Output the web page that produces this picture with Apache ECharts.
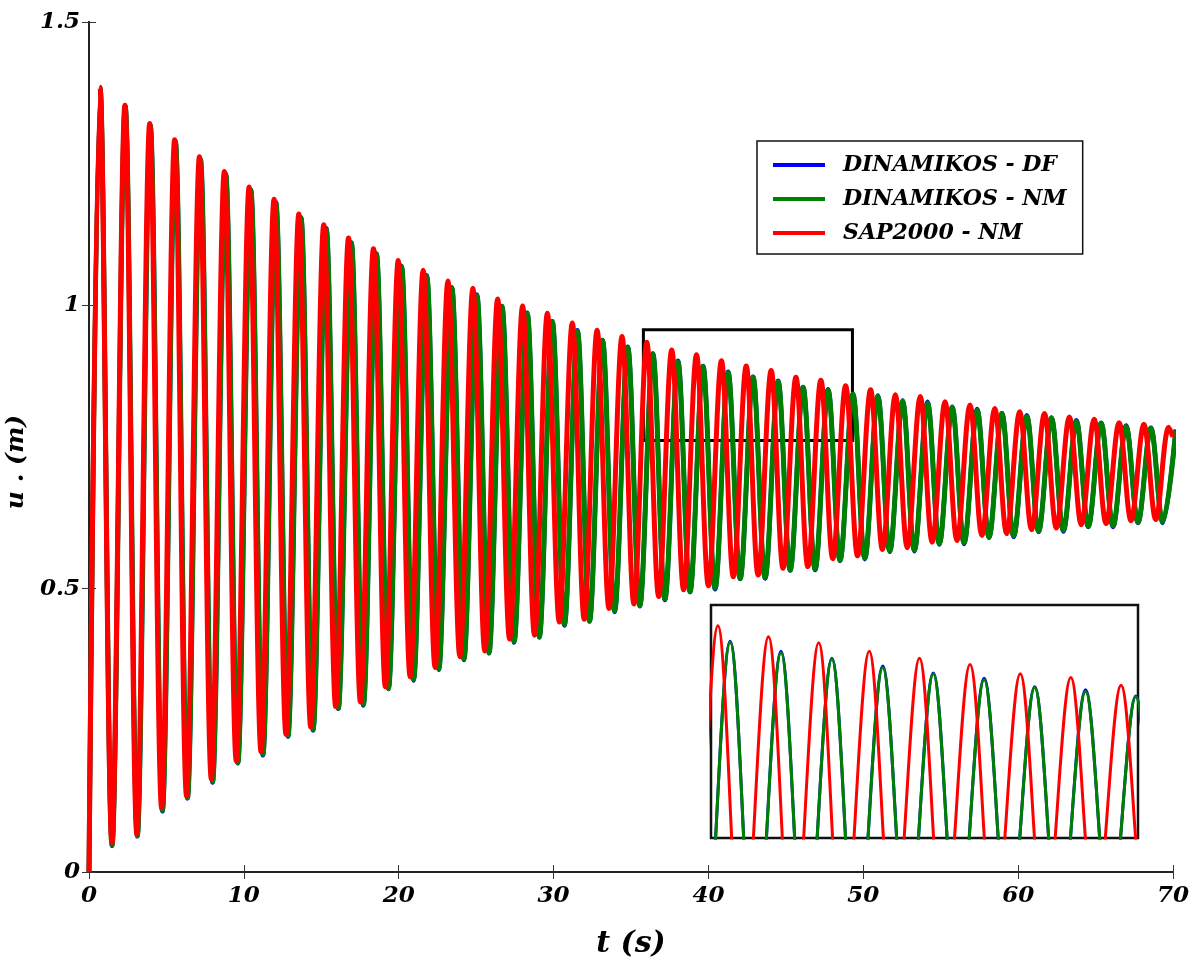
<!DOCTYPE html>
<html>
<head>
<meta charset="utf-8">
<title>u(t)</title>
<script src="https://cdn.jsdelivr.net/npm/echarts@6/dist/echarts.min.js"></script>
<style>
  html, body { margin: 0; padding: 0; background: #fff; }
  #chart { width: 1192px; height: 962px; }
</style>
</head>
<body>
<div id="chart"></div>
<script>
// ---- data (t in s, u in m) ----
const seriesStart = [0, 0];

// SAP2000 - NM (red)
const redPeakT = [0.71, 2.32, 3.92, 5.53, 7.13, 8.74, 10.34, 11.95, 13.55, 15.16, 16.76, 18.37, 19.97, 21.58, 23.18,
  24.79, 26.39, 28.00, 29.60, 31.21, 32.81, 34.42, 36.02, 37.63, 39.23, 40.84, 42.44, 44.05, 45.65, 47.26, 48.86,
  50.47, 52.07, 53.68, 55.28, 56.89, 58.49, 60.10, 61.70, 63.31, 64.91, 66.52, 68.12, 69.73];
const redPeakU = [1.385, 1.353, 1.321, 1.292, 1.262, 1.236, 1.209, 1.187, 1.161, 1.142, 1.119, 1.100, 1.079, 1.062, 1.043,
  1.030, 1.011, 0.999, 0.986, 0.969, 0.956, 0.945, 0.935, 0.921, 0.913, 0.902, 0.893, 0.885, 0.873, 0.868, 0.858,
  0.851, 0.842, 0.839, 0.830, 0.824, 0.818, 0.812, 0.809, 0.803, 0.799, 0.793, 0.790, 0.785];
const redTroughT = [1.48, 3.09, 4.69, 6.30, 7.90, 9.51, 11.11, 12.72, 14.32, 15.93, 17.53, 19.14, 20.74, 22.35, 23.95,
  25.56, 27.16, 28.77, 30.37, 31.98, 33.58, 35.19, 36.79, 38.40, 40.00, 41.61, 43.21, 44.82, 46.42, 48.03, 49.63,
  51.24, 52.84, 54.45, 56.05, 57.66, 59.26, 60.87, 62.47, 64.08, 65.68, 67.29, 68.89];
const redTroughU = [0.052, 0.067, 0.113, 0.134, 0.164, 0.196, 0.212, 0.243, 0.256, 0.292, 0.300, 0.327, 0.344, 0.361, 0.380,
  0.390, 0.411, 0.418, 0.441, 0.446, 0.465, 0.473, 0.486, 0.498, 0.505, 0.521, 0.524, 0.536, 0.539, 0.553, 0.558,
  0.569, 0.572, 0.582, 0.585, 0.594, 0.597, 0.604, 0.607, 0.613, 0.615, 0.620, 0.622];
const redEnd = [70, 0.768];

// DINAMIKOS - NM (green)
const greenPeakT = [0.72, 2.34, 3.96, 5.58, 7.20, 8.83, 10.45, 12.07, 13.69, 15.32, 16.94, 18.56, 20.18, 21.81, 23.43,
  25.05, 26.67, 28.30, 29.92, 31.54, 33.16, 34.79, 36.41, 38.03, 39.65, 41.27, 42.88, 44.50, 46.11, 47.73, 49.33,
  50.94, 52.54, 54.15, 55.74, 57.35, 58.95, 60.56, 62.15, 63.76, 65.36, 66.97, 68.57, 70.18];
const greenPeakU = [1.382, 1.350, 1.317, 1.288, 1.257, 1.230, 1.203, 1.180, 1.154, 1.134, 1.110, 1.090, 1.069, 1.051, 1.031,
  1.017, 0.998, 0.985, 0.971, 0.954, 0.938, 0.925, 0.914, 0.900, 0.892, 0.881, 0.873, 0.865, 0.855, 0.850, 0.843,
  0.839, 0.831, 0.828, 0.820, 0.815, 0.809, 0.804, 0.801, 0.795, 0.792, 0.786, 0.783, 0.779];
const greenTroughT = [1.49, 3.12, 4.74, 6.36, 7.98, 9.61, 11.23, 12.85, 14.47, 16.10, 17.72, 19.34, 20.96, 22.59, 24.21,
  25.83, 27.45, 29.08, 30.70, 32.32, 33.94, 35.57, 37.19, 38.81, 40.43, 42.05, 43.66, 45.28, 46.89, 48.50, 50.10,
  51.71, 53.30, 54.91, 56.51, 58.12, 59.71, 61.32, 62.92, 64.53, 66.13, 67.74, 69.34];
const greenTroughU = [0.048, 0.064, 0.109, 0.131, 0.160, 0.193, 0.208, 0.240, 0.252, 0.289, 0.296, 0.324, 0.340, 0.358, 0.376,
  0.387, 0.407, 0.415, 0.437, 0.443, 0.461, 0.470, 0.482, 0.495, 0.501, 0.518, 0.520, 0.533, 0.535, 0.550, 0.554,
  0.566, 0.568, 0.579, 0.581, 0.591, 0.593, 0.601, 0.603, 0.610, 0.611, 0.617, 0.618];

// DINAMIKOS - DF (blue), almost on top of the green one (same peak / trough times)
const bluePeakU = [1.384, 1.352, 1.318, 1.290, 1.258, 1.232, 1.204, 1.182, 1.155, 1.136, 1.111, 1.092, 1.070, 1.053, 1.032,
  1.019, 0.999, 0.987, 0.972, 0.956, 0.939, 0.927, 0.915, 0.902, 0.893, 0.883, 0.874, 0.867, 0.856, 0.852, 0.844,
  0.841, 0.832, 0.830, 0.821, 0.817, 0.810, 0.806, 0.802, 0.797, 0.793, 0.788, 0.784, 0.781];
const blueTroughU = [0.046, 0.063, 0.107, 0.130, 0.158, 0.192, 0.206, 0.239, 0.250, 0.288, 0.294, 0.323, 0.338, 0.357, 0.374,
  0.386, 0.405, 0.414, 0.435, 0.442, 0.459, 0.469, 0.480, 0.494, 0.499, 0.517, 0.518, 0.532, 0.533, 0.549, 0.552,
  0.565, 0.566, 0.578, 0.579, 0.590, 0.591, 0.600, 0.601, 0.609, 0.609, 0.616, 0.616];

// axes, zoom box and inset window
const xTicks = [0, 10, 20, 30, 40, 50, 60, 70];
const yTicks = [0, 0.5, 1, 1.5];
const boxT = [35.8, 49.3];
const boxU = [0.7615, 0.957];
const insetT = [35.8, 49.4];
const insetU = [0.66, 0.962];

const seriesNames = ["DINAMIKOS - DF", "DINAMIKOS - NM", "SAP2000 - NM"];
const seriesColors = ["#0000ff", "#008000", "#ff0000"];

// ---- chart ----
const FONT = "DejaVu Serif";
const labelFont = { fontFamily: FONT, fontWeight: "bold", fontStyle: "italic", color: "#000" };

function buildLine(start, peakT, peakU, troughT, troughU, end) {
  const pts = [start];
  for (let i = 0; i < peakT.length; i++) {
    pts.push([peakT[i], peakU[i]]);
    if (i < troughT.length) pts.push([troughT[i], troughU[i]]);
  }
  if (end) pts.push(end);
  return pts;
}

const lines = [
  buildLine(seriesStart, greenPeakT, bluePeakU, greenTroughT, blueTroughU, null),
  buildLine(seriesStart, greenPeakT, greenPeakU, greenTroughT, greenTroughU, null),
  buildLine(seriesStart, redPeakT, redPeakU, redTroughT, redTroughU, redEnd),
];

function lineSeries(i, axisIdx, width, z) {
  return {
    name: seriesNames[i],
    type: "line",
    xAxisIndex: axisIdx,
    yAxisIndex: axisIdx,
    data: lines[i],
    showSymbol: false,
    symbol: "none",
    smooth: 0.35,
    clip: true,
    color: seriesColors[i],
    lineStyle: { color: seriesColors[i], width: width },
    z: z + i,
  };
}

const tickStyle = { inside: true, length: 7, lineStyle: { color: "#333", width: 1 } };
const frameLine = { show: true, lineStyle: { color: "#222", width: 2 } };

const chart = echarts.init(document.getElementById("chart"));
chart.setOption({
  animation: false,
  backgroundColor: "#fff",
  grid: [
    { left: 89, right: 19, top: 22, bottom: 90, outerBoundsMode: "none" },
    { left: 711, top: 605, width: 427, height: 233, show: true, backgroundColor: "#fff",
      borderColor: "#111", borderWidth: 2.5, outerBoundsMode: "none" },
  ],
  legend: {
    data: seriesNames,
    orient: "vertical",
    left: 757,
    top: 141,
    padding: [12, 16, 9, 16],
    itemGap: 10,
    itemWidth: 52,
    itemHeight: 4,
    icon: "rect",
    backgroundColor: "#fff",
    borderColor: "#111",
    borderWidth: 1.5,
    borderRadius: 0,
    textStyle: Object.assign({ fontSize: 22, lineHeight: 24, padding: [0, 0, 0, 13] }, labelFont),
  },
  xAxis: [
    {
      type: "value", gridIndex: 0, min: xTicks[0], max: xTicks[xTicks.length - 1], interval: 10,
      name: "t (s)", nameLocation: "middle", nameGap: 57,
      nameTextStyle: Object.assign({ fontSize: 30 }, labelFont),
      axisLine: frameLine, axisTick: tickStyle, splitLine: { show: false },
      axisLabel: Object.assign({ fontSize: 23, margin: 13 }, labelFont),
    },
    { type: "value", gridIndex: 1, min: insetT[0], max: insetT[1], show: false, splitLine: { show: false } },
    {
      type: "value", gridIndex: 0, position: "top", min: xTicks[0], max: xTicks[xTicks.length - 1], interval: 10,
      axisLine: frameLine, axisTick: tickStyle, axisLabel: { show: false }, splitLine: { show: false },
    },
  ],
  yAxis: [
    {
      type: "value", gridIndex: 0, min: yTicks[0], max: yTicks[yTicks.length - 1], interval: 0.5,
      name: "u . (m)", nameLocation: "middle", nameGap: 50,
      nameTextStyle: Object.assign({ fontSize: 25, padding: [0, 30, 0, 0] }, labelFont),
      axisLine: frameLine, axisTick: tickStyle, splitLine: { show: false },
      axisLabel: Object.assign({ fontSize: 23, margin: 9 }, labelFont),
    },
    { type: "value", gridIndex: 1, min: insetU[0], max: insetU[1], show: false, splitLine: { show: false } },
    {
      type: "value", gridIndex: 0, position: "right", min: yTicks[0], max: yTicks[yTicks.length - 1], interval: 0.5,
      axisLine: frameLine, axisTick: tickStyle, axisLabel: { show: false }, splitLine: { show: false },
    },
  ],
  series: [
    lineSeries(0, 0, 4.5, 2),
    lineSeries(1, 0, 5, 2),
    lineSeries(2, 0, 5, 2),
    lineSeries(0, 1, 3, 6),
    lineSeries(1, 1, 3, 6),
    lineSeries(2, 1, 3, 6),
    {
      // zoom window drawn in data coordinates
      type: "line", xAxisIndex: 0, yAxisIndex: 0, data: [], z: 10, silent: true,
      markArea: {
        silent: true,
        itemStyle: { color: "rgba(0,0,0,0)", borderColor: "#000", borderWidth: 3 },
        data: [[{ coord: [boxT[0], boxU[1]] }, { coord: [boxT[1], boxU[0]] }]],
      },
    },
  ],
});
</script>
</body>
</html>
